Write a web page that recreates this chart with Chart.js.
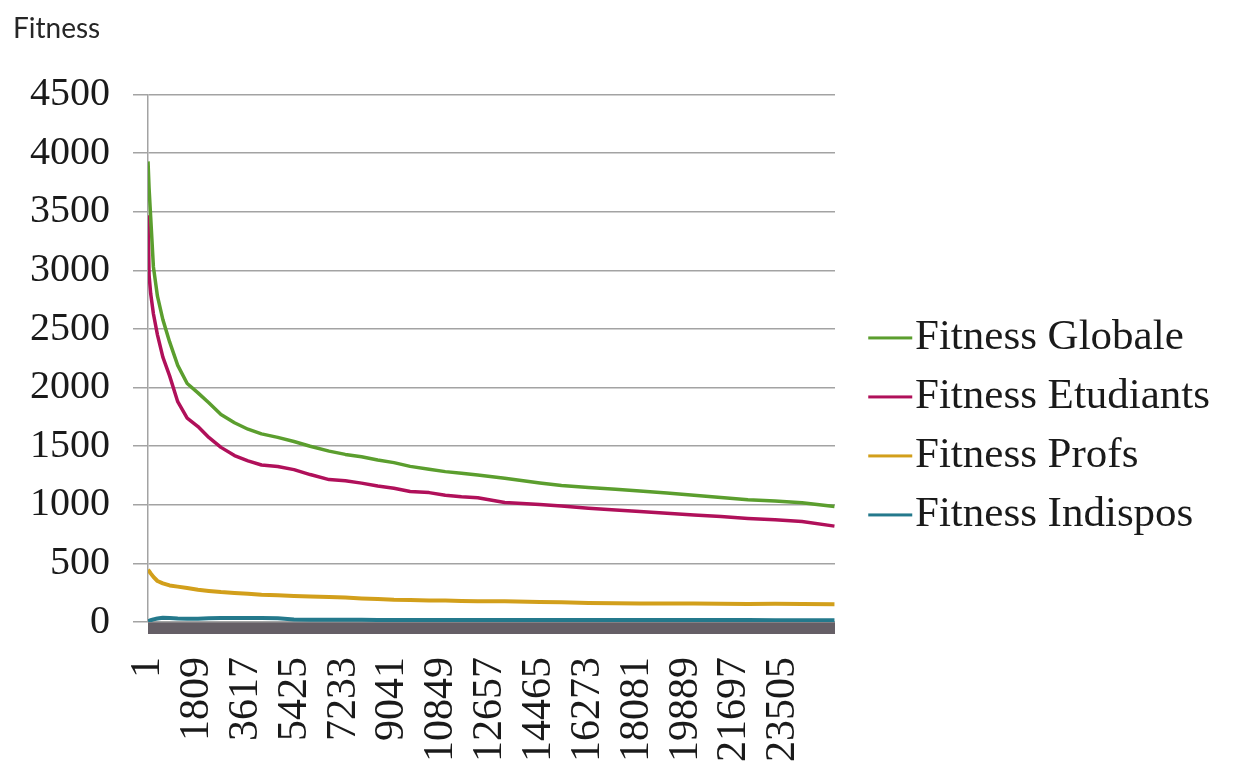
<!DOCTYPE html>
<html>
<head>
<meta charset="utf-8">
<script src="https://cdn.jsdelivr.net/npm/chart.js@4.4.1/dist/chart.umd.min.js"></script>
<style>
  html, body { margin: 0; padding: 0; background: #ffffff; }
  canvas { display: block; }
</style>
</head>
<body>
<canvas id="fitnessChart" width="1250" height="765"></canvas>
<script>
// Iteration numbers at which the fitness values were recorded
const iterations = [1, 40, 100, 200, 350, 550, 800, 1100, 1450, 1850, 2250, 2700, 3200, 3700, 4200,
  4800, 5400, 6000, 6700, 7300, 7900, 8500, 9100, 9700, 10400, 11000, 11600, 12200, 13200, 14500,
  15300, 16300, 17300, 18200, 19200, 20200, 21200, 22200, 23200, 24200, 25400];

const fitnessGlobale = [3930, 3700, 3450, 3030, 2780, 2580, 2390, 2190, 2035, 1955, 1870, 1770, 1700, 1645, 1605,
  1575, 1540, 1500, 1458, 1430, 1410, 1383, 1360, 1328, 1304, 1283, 1269, 1254, 1226, 1186,
  1165, 1148, 1133, 1118, 1100, 1082, 1062, 1044, 1033, 1018, 985];

const fitnessEtudiants = [3470, 2960, 2800, 2630, 2450, 2260, 2100, 1880, 1740, 1668, 1575, 1490, 1420, 1375, 1340,
  1326, 1300, 1258, 1215, 1205, 1185, 1160, 1141, 1114, 1104, 1082, 1068, 1060, 1020, 1003,
  990, 970, 955, 942, 928, 913, 900, 884, 872, 858, 818];

const fitnessProfs = [445, 435, 415, 385, 350, 330, 312, 302, 290, 275, 265, 255, 248, 242, 233,
  228, 222, 217, 214, 208, 201, 196, 190, 188, 184, 183, 180, 178, 176, 170,
  168, 163, 160, 157, 157, 158, 155, 153, 155, 154, 152];

const fitnessIndispos = [5, 10, 15, 22, 30, 37, 35, 30, 27, 28, 33, 35, 35, 34, 34,
  32, 22, 20, 20, 19, 19, 18, 18, 18, 18, 18, 17, 17, 17, 17,
  17, 16, 16, 16, 16, 16, 16, 16, 15, 15, 15];

const seriesNames = ['Fitness Globale', 'Fitness Etudiants', 'Fitness Profs', 'Fitness Indispos'];
const seriesValues = [fitnessGlobale, fitnessEtudiants, fitnessProfs, fitnessIndispos];
const seriesColors = ['#5b9e2e', '#b0105a', '#d29f1b', '#24798c'];
const seriesWidths = [3.5, 3.5, 4, 4];

// Category labels shown along the x axis
const xTickLabels = [1, 1809, 3617, 5425, 7233, 9041, 10849, 12657, 14465, 16273, 18081, 19889, 21697, 23505];
const lastIteration = 25420;

// Value axis
const yMin = 0, yMax = 4500, yStep = 500;

const labelSet = new Set(xTickLabels);
const serif = "'Liberation Serif', 'Times New Roman', serif";

// One tick mark every 16 iterations: they merge into the dense band under the axis
function denseTicks() {
  const t = [];
  for (let v = 1; v <= lastIteration; v += 16) t.push({ value: v });
  return t;
}

// Short coloured line used as the legend key, drawn to the left of the label
function legendKey(color) {
  const c = document.createElement('canvas');
  c.width = 100; c.height = 9;
  const g = c.getContext('2d');
  g.fillStyle = color;
  g.fillRect(46, 3, 44, 3);
  return c;
}
const legendKeys = seriesColors.map(legendKey);

const datasets = seriesNames.map((name, i) => ({
  label: name,
  data: iterations.map((x, k) => ({ x, y: seriesValues[i][k] })),
  borderColor: seriesColors[i],
  backgroundColor: seriesColors[i],
  borderWidth: seriesWidths[i],
  borderJoinStyle: 'round',
  pointRadius: 0,
  tension: 0,
  fill: false
}));

new Chart(document.getElementById('fitnessChart'), {
  type: 'line',
  data: { datasets },
  options: {
    responsive: false,
    animation: false,
    devicePixelRatio: 1,
    layout: { padding: { left: 13, right: 30, top: 0, bottom: 0 } },
    plugins: {
      title: {
        display: true,
        text: 'Fitness',
        align: 'start',
        color: '#262626',
        font: { family: 'Lato, sans-serif', size: 28, weight: 'normal' },
        padding: { top: 12, bottom: 49 }
      },
      legend: {
        display: true,
        position: 'right',
        align: 'start',
        maxWidth: 385,
        title: { display: true, text: '', font: { size: 12 }, padding: { top: 286, bottom: 0 } },
        labels: {
          usePointStyle: true,
          pointStyleWidth: 42.5,
          padding: 16,
          color: '#1a1a1a',
          font: { family: serif, size: 43 },
          generateLabels: (chart) => chart.data.datasets.map((ds, i) => ({
            text: ds.label,
            datasetIndex: i,
            pointStyle: legendKeys[i],
            fillStyle: seriesColors[i],
            strokeStyle: seriesColors[i],
            lineWidth: 0,
            hidden: false,
            fontColor: '#1a1a1a'
          }))
        }
      },
      tooltip: { enabled: false }
    },
    scales: {
      x: {
        type: 'linear',
        min: 0,
        max: lastIteration,
        afterBuildTicks: (scale) => { scale.ticks = denseTicks(); },
        afterFit: (scale) => { scale.height = 143; },
        ticks: {
          autoSkip: false,
          minRotation: 90,
          maxRotation: 90,
          padding: 23,
          color: '#1a1a1a',
          font: { family: serif, size: 42 },
          callback: (v) => (labelSet.has(v) ? String(v) : '')
        },
        grid: {
          drawOnChartArea: false,
          drawTicks: true,
          tickLength: 12,
          color: '#655f66',
          lineWidth: 1
        },
        border: { display: false }
      },
      y: {
        min: yMin,
        max: yMax,
        afterFit: (scale) => { scale.width = 135; },
        ticks: {
          stepSize: yStep,
          padding: 23,
          color: '#1a1a1a',
          font: { family: serif, size: 40 },
          callback: (v) => String(v)
        },
        grid: {
          color: '#a3a3a3',
          lineWidth: 1.5,
          tickLength: 15
        },
        border: { display: true, color: '#a3a3a3', width: 1.5 }
      }
    }
  }
});
</script>
</body>
</html>
